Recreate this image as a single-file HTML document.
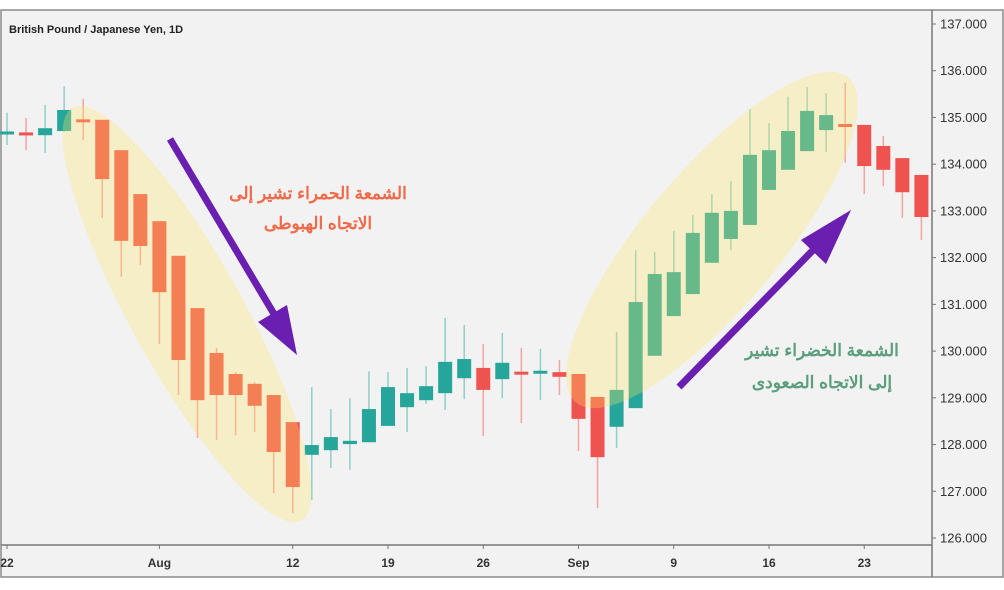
<!DOCTYPE html>
<html><head><meta charset="utf-8"><style>
html,body{margin:0;padding:0;background:#fff;}
svg{display:block;}
</style></head><body>
<svg id="chart" width="1004" height="590" xmlns="http://www.w3.org/2000/svg" font-family="Liberation Sans, sans-serif">
<rect x="1" y="10" width="1002" height="567" fill="#f2f2f2" stroke="#8a8a8a" stroke-width="1.5"/>
<g id="candles"></g>
<g id="overlay">
<ellipse cx="187" cy="314" rx="236" ry="56" transform="rotate(61 187 314)" fill="rgba(255,230,100,0.3)"/>
<ellipse cx="712" cy="240" rx="212" ry="68" transform="rotate(-50 712 240)" fill="rgba(255,230,100,0.3)"/>
</g>
<g>
<line x1="170" y1="139" x2="274" y2="314" stroke="#6a1fb0" stroke-width="7"/>
<polygon points="297,355 258,322 287,305" fill="#6a1fb0"/>
</g>
<g>
<line x1="679" y1="387" x2="820" y2="243" stroke="#6a1fb0" stroke-width="7"/>
<polygon points="851,210 801,240 826,264" fill="#6a1fb0"/>
</g>
<text x="318" y="199" text-anchor="middle" font-size="17" font-weight="bold" fill="#f06a4a" font-family="Liberation Sans, Noto Sans CJK SC, sans-serif" direction="rtl">الشمعة الحمراء تشير إلى</text>
<text x="318" y="229" text-anchor="middle" font-size="17" font-weight="bold" fill="#f06a4a" font-family="Liberation Sans, Noto Sans CJK SC, sans-serif" direction="rtl">الاتجاه الهبوطى</text>
<text x="822" y="356" text-anchor="middle" font-size="17" font-weight="bold" fill="#5a9e7c" font-family="Liberation Sans, Noto Sans CJK SC, sans-serif" direction="rtl">الشمعة الخضراء تشير</text>
<text x="822" y="388" text-anchor="middle" font-size="17" font-weight="bold" fill="#5a9e7c" font-family="Liberation Sans, Noto Sans CJK SC, sans-serif" direction="rtl">إلى الاتجاه الصعودى</text>
<g id="yaxis"></g>
<g id="xaxis"></g>
<text x="9" y="33" font-size="11" font-weight="bold" fill="#222">British Pound / Japanese Yen, 1D</text>
</svg>
<script>
const opens =[134.66,134.68,134.62,134.71,134.96,134.95,134.30,133.36,132.78,132.04,130.92,129.96,129.51,129.30,129.06,128.48,127.78,127.88,128.01,128.05,128.40,128.80,128.95,129.10,129.42,129.64,129.40,129.56,129.55,129.55,129.51,129.02,128.38,128.78,129.90,130.75,131.22,131.89,132.40,132.70,133.45,133.88,134.28,134.73,134.86,134.84,134.39,134.13,133.77];
const closes=[134.70,134.64,134.77,135.16,134.94,133.68,132.36,132.25,131.26,129.81,128.95,129.06,129.06,128.83,127.84,127.09,127.99,128.16,128.08,128.76,129.23,129.10,129.25,129.77,129.83,129.17,129.75,129.53,129.58,129.45,128.55,127.73,129.17,131.05,131.65,131.69,132.53,132.96,133.00,134.20,134.30,134.71,135.14,135.05,134.82,133.96,133.88,133.40,132.87];
const highs =[135.10,134.99,135.27,135.67,135.40,134.95,134.30,133.36,132.78,132.04,130.92,130.07,129.55,129.34,129.06,128.48,129.23,128.76,128.99,129.57,129.55,129.64,129.68,130.71,130.56,130.15,130.39,130.07,130.05,129.81,129.51,129.02,130.41,132.16,132.12,132.57,132.91,133.36,133.64,135.18,134.88,135.44,135.65,135.52,135.74,134.84,134.60,134.13,133.77];
const lows  =[134.41,134.30,134.24,134.69,134.52,132.85,131.59,131.84,130.15,129.06,128.14,128.10,128.20,128.27,126.96,126.53,126.81,127.50,127.46,128.05,128.40,128.27,128.87,128.74,128.97,128.18,128.99,128.46,128.95,129.06,127.86,126.64,127.93,128.78,129.90,130.75,131.22,131.89,132.16,132.70,133.45,133.88,134.28,134.26,134.03,133.36,133.53,132.85,132.38];
const yTicks=[137,136,135,134,133,132,131,130,129,128,127,126];
const xLabels=["22","Aug","12","19","26","Sep","9","16","23"];
const xLabelIdx=[0,8,15,20,25,30,35,40,45];

const NS="http://www.w3.org/2000/svg";
function y(p){return 24+(137-p)*46.73;}
function x(i){return 7+i*19.05;}
function mk(t,a,parent){const e=document.createElementNS(NS,t);for(const k in a)e.setAttribute(k,a[k]);parent.appendChild(e);return e;}
const cg=document.getElementById('candles');
for(let i=0;i<opens.length;i++){
  const up=closes[i]>=opens[i];
  const col=up?'#26a69a':'#ef5350';
  const wick=up?'#8fcfc7':'#f5a3a1';
  const g=mk('g',{},cg);
  
  
  const w=mk('line',{x1:x(i),x2:x(i),y1:y(highs[i]),y2:y(lows[i]),stroke:wick,'stroke-width':1.5},g);
  const top=y(Math.max(opens[i],closes[i])),bot=y(Math.min(opens[i],closes[i]));
  const b=mk('rect',{x:x(i)-7,y:top,width:14,height:Math.max(bot-top,3),fill:col},g);
}
const ya=document.getElementById('yaxis');
mk('line',{x1:932,x2:932,y1:10,y2:577,stroke:'#777','stroke-width':1.5},ya);
mk('line',{x1:1,x2:932,y1:545,y2:545,stroke:'#777','stroke-width':1.5},ya);
yTicks.forEach(v=>{
  mk('line',{x1:932,x2:936,y1:y(v),y2:y(v),stroke:'#777'},ya);
  const t=mk('text',{x:940,y:y(v)+4.5,'font-size':13,fill:'#333'},ya);
  
  
  t.textContent=v.toFixed(3);
});
const xa=document.getElementById('xaxis');
xLabels.forEach((l,k)=>{
  const xx=x(xLabelIdx[k])+(k===0?0:0);
  mk('line',{x1:xx,x2:xx,y1:545,y2:549,stroke:'#777'},xa);
  const t=mk('text',{x:xx,y:567,'font-size':12,'font-weight':'bold',fill:'#333','text-anchor':'middle'},xa);
  
  
  t.textContent=l;
});
</script>
</body></html>
